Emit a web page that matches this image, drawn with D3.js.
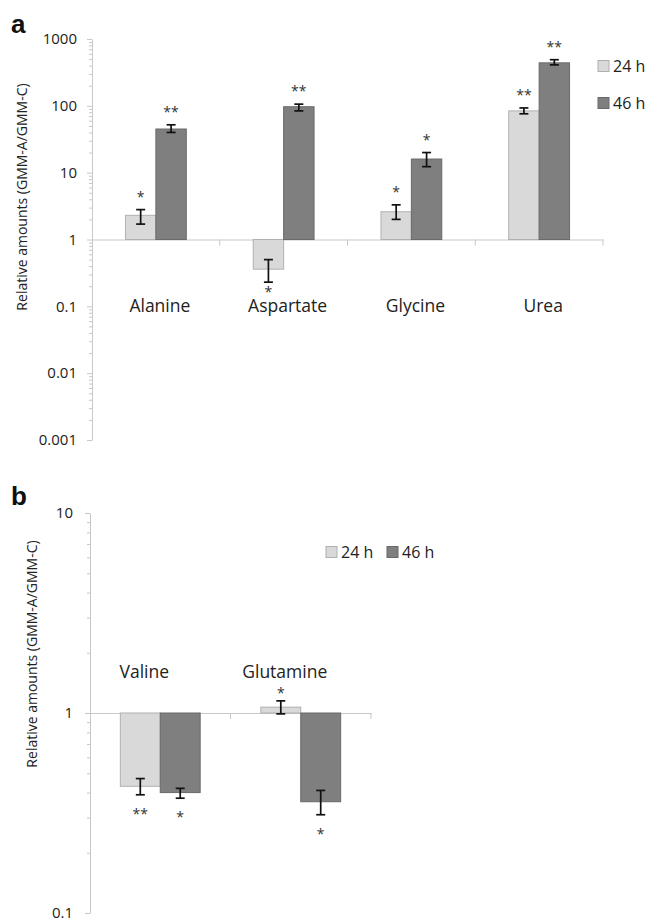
<!DOCTYPE html>
<html>
<head>
<meta charset="utf-8">
<script src="https://cdn.jsdelivr.net/npm/d3@7"></script>
<style>
	body { margin: 0; background: #fff; }
	text { font-family: "Open Sans", sans-serif; fill: #222; }
</style>
</head>
<body>
<script>
// panel a
var categoriesA = ['Alanine', 'Aspartate', 'Glycine', 'Urea'];
var seriesNames = ['24 h', '46 h'];
var valuesA24 = [2.3, 0.36, 2.6, 84];
var valuesA46 = [45, 97, 16, 440];
var errLowA24 = [1.7, 0.23, 2.0, 76];
var errHighA24 = [2.8, 0.50, 3.3, 93];
var errLowA46 = [40, 84, 12.3, 410];
var errHighA46 = [52, 106, 20, 490];
var starsA24 = ['*', '*', '*', '**'];
var starsA46 = ['**', '**', '*', '**'];
var ticksA = [1000, 100, 10, 1, 0.1, 0.01, 0.001];

// panel b
var categoriesB = ['Valine', 'Glutamine'];
var valuesB24 = [0.43, 1.07];
var valuesB46 = [0.40, 0.36];
var errLowB24 = [0.39, 0.99];
var errHighB24 = [0.47, 1.15];
var errLowB46 = [0.375, 0.31];
var errHighB46 = [0.42, 0.41];
var starsB24 = ['**', '*'];
var starsB46 = ['*', '*'];
var ticksB = [10, 1, 0.1];

var colors = {'24 h': '#d9d9d9', '46 h': '#7f7f7f'};
var strokes = {'24 h': '#b0b0b0', '46 h': '#6a6a6a'};
var axisColor = '#c8c8c8';

var svg = d3.select('body').append('svg')
	.attr('width', 652)
	.attr('height', 922);

function buildRows(cats, v24, v46, lo24, lo46, hi24, hi46, s24, s46) {
	var rows = [];
	cats.forEach(function(c, i) {
		rows.push({cat: c, series: '24 h', v: v24[i], lo: lo24[i], hi: hi24[i], star: s24[i]});
		rows.push({cat: c, series: '46 h', v: v46[i], lo: lo46[i], hi: hi46[i], star: s46[i]});
	});
	return rows;
}

function minorTicks(domain) {
	var out = [];
	for (var e = Math.log10(domain[0]); e < Math.log10(domain[1]); e++) {
		for (var k = 2; k < 10; k++) {
			out.push(k * Math.pow(10, e));
		}
	}
	return out;
}

function drawPanel(opt) {
	var g = svg.append('g');
	var x0 = d3.scaleBand().domain(opt.cats).range(opt.xRange).padding(0);
	var x1 = d3.scaleBand().domain(seriesNames).range([0, x0.bandwidth()])
		.paddingInner(0).paddingOuter(opt.outer);
	var y = d3.scaleLog().domain(opt.yDomain).range(opt.yRange);

	// y axis, minor ticks then major
	var minor = g.append('g')
		.attr('transform', 'translate(' + opt.xRange[0] + ',0)')
		.call(d3.axisLeft(y).tickValues(minorTicks(opt.yDomain)).tickSize(3).tickFormat(''));
	minor.select('.domain').remove();
	minor.selectAll('line').attr('stroke', axisColor);

	var yAxis = g.append('g')
		.attr('transform', 'translate(' + opt.xRange[0] + ',0)')
		.call(d3.axisLeft(y).tickValues(opt.ticks).tickSize(5).tickSizeOuter(0).tickPadding(opt.tickPad)
			.tickFormat(function(d) { return String(d); }));
	yAxis.select('.domain').attr('stroke', axisColor);
	yAxis.selectAll('line').attr('stroke', axisColor);
	yAxis.selectAll('text')
		.style('font-family', '"Open Sans", sans-serif')
		.style('font-size', '15px')
		.attr('fill', '#222');

	// x axis crossing at 1
	var xAxis = g.append('g')
		.attr('transform', 'translate(0,' + y(1) + ')')
		.call(d3.axisBottom(x0).tickSize(0).tickFormat(''));
	xAxis.select('.domain').attr('stroke', axisColor);
	var edges = opt.cats.map(function(c) { return x0(c) + x0.bandwidth(); });
	g.selectAll('.cattick').data(edges).enter().append('line')
		.attr('x1', function(d) { return d; })
		.attr('x2', function(d) { return d; })
		.attr('y1', y(1))
		.attr('y2', y(1) + 6)
		.attr('stroke', axisColor);

	var rows = buildRows(opt.cats, opt.v24, opt.v46, opt.lo24, opt.lo46, opt.hi24, opt.hi46, opt.s24, opt.s46);

	g.selectAll('rect.bar').data(rows).enter().append('rect')
		.attr('class', 'bar')
		.attr('x', function(d) { return x0(d.cat) + x1(d.series); })
		.attr('width', x1.bandwidth())
		.attr('y', function(d) { return Math.min(y(d.v), y(1)); })
		.attr('height', function(d) { return Math.abs(y(d.v) - y(1)); })
		.attr('fill', function(d) { return colors[d.series]; })
		.attr('stroke', function(d) { return strokes[d.series]; })
		.attr('stroke-width', 1);

	var cx = function(d) { return x0(d.cat) + x1(d.series) + x1.bandwidth() / 2; };
	var err = g.selectAll('g.err').data(rows).enter().append('g')
		.attr('stroke', '#111')
		.attr('stroke-width', 1.7);
	err.append('line')
		.attr('x1', cx).attr('x2', cx)
		.attr('y1', function(d) { return y(d.lo); })
		.attr('y2', function(d) { return y(d.hi); });
	[function(d) { return y(d.lo); }, function(d) { return y(d.hi); }].forEach(function(fy) {
		err.append('line')
			.attr('x1', function(d) { return cx(d) - 4.5; })
			.attr('x2', function(d) { return cx(d) + 4.5; })
			.attr('y1', fy).attr('y2', fy);
	});

	g.selectAll('text.star').data(rows).enter().append('text')
		.attr('class', 'star')
		.attr('x', cx)
		.attr('y', function(d) { return d.v >= 1 ? y(d.hi) - opt.starAbove : y(d.lo) + opt.starBelow; })
		.attr('text-anchor', 'middle')
		.style('font-size', '14px')
		.style('fill', '#333')
		.text(function(d) { return d.star; });

	g.selectAll('text.cat').data(opt.cats).enter().append('text')
		.attr('class', 'cat')
		.attr('x', function(d) { return x0(d) + x0.bandwidth() / 2 + opt.labelShift; })
		.attr('y', opt.labelY)
		.attr('text-anchor', 'middle')
		.style('font-size', '17.5px')
		.text(function(d) { return d; });

	g.append('text')
		.attr('transform', 'translate(' + opt.titleX + ',' + opt.titleY + ') rotate(-90)')
		.attr('text-anchor', 'middle')
		.style('font-size', '14px')
		.text('Relative amounts (GMM-A/GMM-C)');

	g.append('text')
		.attr('x', 11)
		.attr('y', opt.letterY)
		.style('font-family', '"Liberation Sans", Arial, sans-serif')
		.style('font-weight', 'bold')
		.style('font-size', '26px')
		.style('fill', '#111')
		.text(opt.letter);

	var leg = g.selectAll('g.leg').data(seriesNames).enter().append('g')
		.attr('transform', function(d, i) {
			return 'translate(' + opt.legend[i][0] + ',' + opt.legend[i][1] + ')';
		});
	leg.append('rect')
		.attr('x', 0).attr('y', -5.5)
		.attr('width', 11).attr('height', 11)
		.attr('fill', function(d) { return colors[d]; })
		.attr('stroke', function(d) { return strokes[d]; });
	leg.append('text')
		.attr('x', 15).attr('y', 6)
		.style('font-size', '16px')
		.text(function(d) { return d; });
}

drawPanel({
	cats: categoriesA, v24: valuesA24, v46: valuesA46,
	lo24: errLowA24, lo46: errLowA46, hi24: errHighA24, hi46: errHighA46,
	s24: starsA24, s46: starsA46, ticks: ticksA, tickPad: 10,
	xRange: [92, 603], outer: 1.1,
	yDomain: [0.001, 1000], yRange: [440, 39],
	labelY: 312, labelShift: 4,
	starAbove: 8, starBelow: 15,
	titleX: 27, titleY: 197,
	letter: 'a', letterY: 33,
	legend: [[598, 66], [598, 103]]
});

drawPanel({
	cats: categoriesB, v24: valuesB24, v46: valuesB46,
	lo24: errLowB24, lo46: errLowB46, hi24: errHighB24, hi46: errHighB46,
	s24: starsB24, s46: starsB46, ticks: ticksB, tickPad: 12,
	xRange: [90, 371], outer: 0.76,
	yDomain: [0.1, 10], yRange: [913, 513],
	labelY: 678, labelShift: -16,
	starAbove: 3, starBelow: 24,
	titleX: 37, titleY: 654,
	letter: 'b', letterY: 505,
	legend: [[326, 552], [387, 552]]
});
</script>
</body>
</html>
